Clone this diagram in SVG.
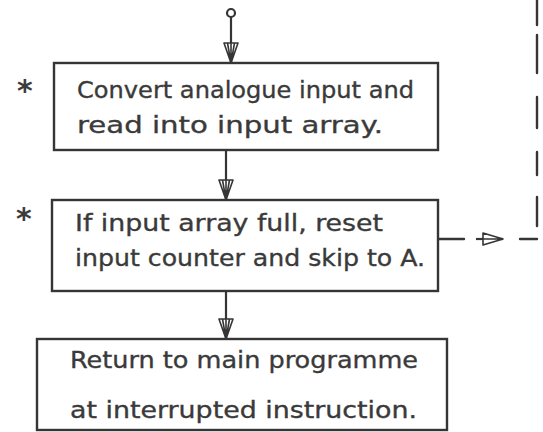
<svg xmlns="http://www.w3.org/2000/svg" width="543" height="432" viewBox="0 0 543 432">
<style>
.box{fill:none;stroke:#353535;stroke-width:2.4}
.lbl{font-family:"DejaVu Sans",sans-serif;font-size:23px;fill:#3a3a3a;stroke:#3a3a3a;stroke-width:0.35}
.ast{font-family:"DejaVu Sans",sans-serif;font-size:30px;fill:#3c3c3c;font-weight:bold}
.ln{stroke:#353535;stroke-width:2.2;fill:none}
.dash{stroke:#353535;stroke-width:2.4;fill:none;stroke-linecap:round}
</style>
<defs>
<marker id="ah" markerUnits="userSpaceOnUse" viewBox="0 0 22 16" refX="21" refY="8" markerWidth="22" markerHeight="16" orient="auto">
<path d="M1,1 L21,8 L1,15 Z M1,8 L21,8 M1,4.5 L21,8 M1,11.5 L21,8" fill="#fff" stroke="#353535" stroke-width="1.6" stroke-linejoin="round"/>
</marker>
<marker id="ahs" markerUnits="userSpaceOnUse" viewBox="0 0 22 14" refX="21" refY="7" markerWidth="22" markerHeight="14" orient="auto">
<path d="M1,1 L21,7 L1,13 Z M1,7 L21,7" fill="#fff" stroke="#353535" stroke-width="1.6" stroke-linejoin="round"/>
</marker>
</defs>
<rect width="543" height="432" fill="#fff"/>
<g id="connectors">
<circle cx="231" cy="13" r="4" class="ln" stroke-width="2.6"/>
<line x1="231" y1="17" x2="231" y2="63" class="ln" marker-end="url(#ah)"/>
<line x1="226" y1="150" x2="226" y2="200" class="ln" marker-end="url(#ah)"/>
<line x1="226" y1="291" x2="226" y2="339" class="ln" marker-end="url(#ah)"/>
<g id="skip-to-A">
<line x1="439" y1="239" x2="464" y2="239" class="dash"/>
<line x1="476" y1="239" x2="503" y2="239" class="ln" marker-end="url(#ahs)"/>
<line x1="520" y1="239" x2="537" y2="239" class="dash"/>
<line x1="537" y1="0" x2="537" y2="25" class="dash"/>
<line x1="537" y1="35" x2="537" y2="73" class="dash"/>
<line x1="537" y1="97" x2="537" y2="128" class="dash"/>
<line x1="537" y1="152" x2="537" y2="175" class="dash"/>
<line x1="537" y1="197" x2="537" y2="226" class="dash"/>
</g>
</g>
<g id="box1">
<rect x="54" y="63" width="384" height="87" class="box"/>
<text class="ast" x="17" y="101">*</text>
<text class="lbl" x="77" y="98" textLength="337" lengthAdjust="spacingAndGlyphs">Convert analogue input and</text>
<text class="lbl" x="77" y="133" textLength="306" lengthAdjust="spacingAndGlyphs">read into input array.</text>
</g>
<g id="box2">
<rect x="52" y="200" width="386" height="91" class="box"/>
<text class="ast" x="16" y="229">*</text>
<text class="lbl" x="75" y="231" textLength="308" lengthAdjust="spacingAndGlyphs">If input array full, reset</text>
<text class="lbl" x="75" y="266" textLength="350" lengthAdjust="spacingAndGlyphs">input counter and skip to A.</text>
</g>
<g id="box3">
<rect x="37" y="339" width="410" height="91" class="box"/>
<text class="lbl" x="70" y="368" textLength="348" lengthAdjust="spacingAndGlyphs">Return to main programme</text>
<text class="lbl" x="70" y="418" textLength="347" lengthAdjust="spacingAndGlyphs">at interrupted instruction.</text>
</g>
</svg>
